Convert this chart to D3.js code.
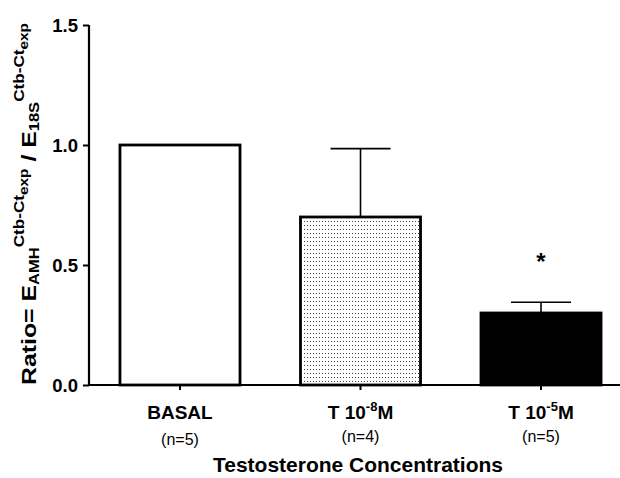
<!DOCTYPE html>
<html>
<head>
<meta charset="utf-8">
<script src="https://cdn.jsdelivr.net/npm/d3@7"></script>
<style>
  body { margin: 0; background: #fff; }
  svg { display: block; font-family: "Liberation Sans", Arial, Helvetica, sans-serif; }
</style>
</head>
<body>
<div id="chart"></div>
<script>
const categories = ['BASAL', 'T10-8', 'T10-5'];
const catBase = ['', 'T 10', 'T 10'];
const catSup = ['', '-8', '-5'];
const catTail = ['BASAL', 'M', 'M'];
const means = [1.0, 0.70, 0.30];
const errors = [0, 0.285, 0.045];
const nLabels = ['(n=5)', '(n=4)', '(n=5)'];
const marks = ['', '', '*'];
const fills = ['#fff', 'url(#dots)', '#000'];
const yTicks = [0, 0.5, 1.0, 1.5];

const width = 620;
const height = 478;

const svg = d3.select('#chart').append('svg').attr('width', width).attr('height', height);

const defs = svg.append('defs');
const pat = defs
  .append('pattern')
  .attr('id', 'dots')
  .attr('patternUnits', 'userSpaceOnUse')
  .attr('width', 3)
  .attr('height', 4);
pat.append('rect').attr('width', 3).attr('height', 4).attr('fill', '#fff');
pat.append('rect').attr('x', 1).attr('y', 1).attr('width', 1).attr('height', 1).attr('fill', '#444');

const x = d3.scaleBand().domain(categories).range([90, 631]).paddingInner(0.335).paddingOuter(0.166);
const y = d3.scaleLinear().domain([0, 1.5]).range([385, 25]);

const data = categories.map((c, i) => ({ c, i, mean: means[i], err: errors[i] }));
const cx = (d) => x(d.c) + x.bandwidth() / 2;

// bars
svg
  .append('g')
  .selectAll('rect')
  .data(data)
  .enter()
  .append('rect')
  .attr('x', (d) => x(d.c))
  .attr('y', (d) => y(d.mean))
  .attr('width', x.bandwidth())
  .attr('height', (d) => y(0) - y(d.mean))
  .attr('fill', (d) => fills[d.i])
  .attr('stroke', '#000')
  .attr('stroke-width', 2.8);

// error bars (upper only)
const eb = svg.append('g').attr('stroke', '#000').attr('stroke-width', 1.6);
data
  .filter((d) => d.err > 0)
  .forEach((d) => {
    eb.append('line').attr('x1', cx(d)).attr('x2', cx(d)).attr('y1', y(d.mean)).attr('y2', y(d.mean + d.err));
    eb.append('line')
      .attr('x1', cx(d) - x.bandwidth() / 4)
      .attr('x2', cx(d) + x.bandwidth() / 4)
      .attr('y1', y(d.mean + d.err))
      .attr('y2', y(d.mean + d.err));
  });

// significance marks
svg
  .append('g')
  .selectAll('text')
  .data(data.filter((d) => marks[d.i]))
  .enter()
  .append('text')
  .attr('x', cx)
  .attr('y', (d) => y(d.mean + d.err) - 32)
  .attr('text-anchor', 'middle')
  .attr('font-size', 24)
  .attr('font-weight', 'bold')
  .text((d) => marks[d.i]);

// y axis
const yAxis = svg
  .append('g')
  .attr('transform', 'translate(89,0)')
  .call(d3.axisLeft(y).tickValues(yTicks).tickFormat(d3.format('.1f')).tickSize(6).tickPadding(5));
yAxis.select('.domain').attr('stroke-width', 2.2).attr('d', `M0,${y(1.5)}V${y(0)}`);
yAxis.selectAll('.tick line').attr('stroke-width', 2);
yAxis
  .selectAll('.tick text')
  .attr('font-size', 18.5)
  .attr('font-weight', 'bold')
  .attr('font-family', null)
  .attr('dy', '0.34em');

// x axis
const xAxis = svg
  .append('g')
  .attr('transform', `translate(0,${y(0)})`)
  .call(d3.axisBottom(x).tickSize(5).tickFormat(''));
xAxis.select('.domain').attr('stroke-width', 2.2).attr('d', 'M88,0H620');
xAxis.selectAll('.tick line').attr('stroke-width', 2);

// category labels
const cl = svg
  .append('g')
  .selectAll('text')
  .data(data)
  .enter()
  .append('text')
  .attr('x', cx)
  .attr('y', 419)
  .attr('text-anchor', 'middle')
  .attr('font-size', 19)
  .attr('font-weight', 'bold');
cl.append('tspan').text((d) => catBase[d.i]);
cl.append('tspan')
  .attr('dy', (d) => (catSup[d.i] ? -8 : 0))
  .attr('font-size', 13)
  .text((d) => catSup[d.i]);
cl.append('tspan')
  .attr('dy', (d) => (catSup[d.i] ? 8 : 0))
  .text((d) => catTail[d.i]);

svg
  .append('g')
  .selectAll('text')
  .data(data)
  .enter()
  .append('text')
  .attr('x', cx)
  .attr('y', (d) => (d.i === 0 ? 445 : 442))
  .attr('text-anchor', 'middle')
  .attr('font-size', 16)
  .text((d) => nLabels[d.i]);

// x title
svg
  .append('text')
  .attr('x', 358)
  .attr('y', 472)
  .attr('text-anchor', 'middle')
  .attr('font-size', 20.5)
  .attr('font-weight', 'bold')
  .attr('textLength', 290)
  .attr('lengthAdjust', 'spacingAndGlyphs')
  .text('Testosterone Concentrations');

// y title
const yt = svg
  .append('text')
  .attr('transform', 'translate(36,204) rotate(-90)')
  .attr('text-anchor', 'middle')
  .attr('font-size', 21)
  .attr('font-weight', 'bold')
  .attr('textLength', 362)
  .attr('lengthAdjust', 'spacingAndGlyphs');
yt.append('tspan').text('Ratio= E');
yt.append('tspan').attr('dy', 3).attr('font-size', 14).text('AMH');
yt.append('tspan').attr('dy', -15).attr('font-size', 14.5).text('Ctb-Ct');
yt.append('tspan').attr('dy', 4).attr('font-size', 13).text('exp');
yt.append('tspan').attr('dy', 8).text(' / E');
yt.append('tspan').attr('dy', 3).attr('font-size', 14).text('18S');
yt.append('tspan').attr('dy', -15).attr('font-size', 14.5).text('Ctb-Ct');
yt.append('tspan').attr('dy', 4).attr('font-size', 13).text('exp');
</script>
</body>
</html>
